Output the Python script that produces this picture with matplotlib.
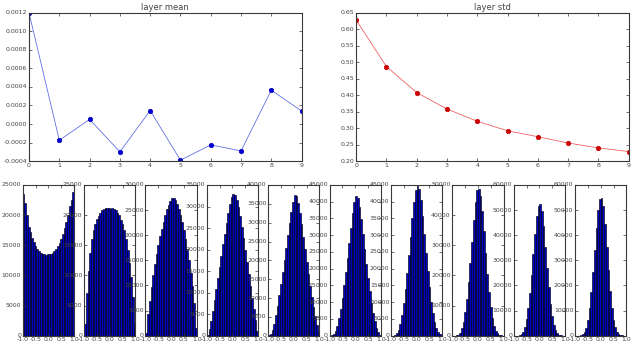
import numpy as np
import matplotlib
matplotlib.use("Agg")
import matplotlib.pyplot as plt
from matplotlib.ticker import FormatStrFormatter, MultipleLocator

plt.style.use("classic")

# per-layer statistics of the tanh activations
layers = list(range(10))
layer_means = [0.00120, -0.000175, 0.00005, -0.00030, 0.000145,
               -0.00039, -0.000225, -0.00029, 0.000365, 0.00014]
layer_stds = [0.628, 0.487, 0.408, 0.358, 0.321,
              0.292, 0.274, 0.255, 0.240, 0.229]

# activation histograms, 30 bins over [-1, 1]
bin_edges = np.linspace(-1, 1, 31)
hist_counts = [
    [23500, 22000, 20000, 18000, 17200, 16200, 15500, 14800, 14300, 14000,
     13700, 13500, 13500, 13400, 13500, 13500, 13600, 13800, 14000, 14300,
     14800, 15300, 16000, 16800, 17800, 18800, 20000, 21500, 22500, 23800],
    [2000, 7000, 10800, 13800, 16000, 17500, 18500, 19300, 19900, 20400,
     20800, 21000, 21100, 21200, 21200, 21000, 21200, 21000, 20800, 20400,
     20000, 19200, 18500, 17500, 16000, 14200, 12000, 9800, 6500, 2100],
    [600, 4300, 7000, 9600, 12000, 14200, 16200, 18100, 19800, 21300,
     22700, 24000, 25200, 26100, 26900, 27500, 27400, 27000, 26300, 25300,
     24100, 22700, 21100, 19300, 17200, 15000, 12500, 9800, 6500, 1500],
    [200, 1500, 3500, 5800, 8200, 10800, 13400, 16000, 18600, 21200,
     23700, 26200, 28500, 30600, 32200, 33000, 32700, 31500, 29800, 27700,
     25200, 22600, 19900, 17100, 14300, 11500, 8800, 6200, 3700, 1000],
    [50, 400, 1500, 3200, 5400, 7900, 10700, 13700, 16800, 20000,
     23300, 26600, 29800, 32800, 35400, 37300, 37000, 35200, 32600, 29600,
     26300, 22900, 19500, 16300, 13200, 10300, 7600, 5100, 2900, 1000],
    [0, 100, 500, 1500, 3000, 5200, 8000, 11300, 15000, 19000,
     23300, 27700, 32200, 36500, 40000, 41600, 41000, 38500, 34800, 30500,
     26000, 21500, 17200, 13300, 9800, 6800, 4300, 2400, 1100, 300],
    [0, 50, 200, 700, 1800, 3600, 6200, 9700, 13900, 18700,
     24000, 29500, 35000, 40000, 43500, 44800, 43800, 40500, 35800, 30400,
     24800, 19400, 14500, 10200, 6800, 4200, 2300, 1100, 400, 100],
    [0, 0, 100, 300, 1000, 2400, 4600, 7900, 12300, 17800,
     24200, 31200, 38300, 44500, 48300, 48800, 46500, 41500, 34800, 27600,
     20600, 14500, 9600, 5900, 3300, 1700, 800, 300, 100, 0],
    [0, 0, 50, 200, 600, 1600, 3500, 6600, 11000, 17000,
     24300, 32500, 40600, 47500, 51500, 52300, 49500, 43500, 35500, 27000,
     19200, 12700, 7800, 4400, 2200, 1000, 400, 150, 50, 0],
    [0, 0, 30, 150, 500, 1400, 3200, 6300, 10900, 17300,
     25200, 34000, 42800, 50000, 54500, 55000, 51500, 44500, 35500, 26200,
     17800, 11000, 6300, 3300, 1500, 600, 200, 80, 20, 0],
]
hist_ymax = [25000, 25000, 30000, 35000, 40000, 45000, 45000, 50000, 60000, 60000]
hist_ystep = [5000, 5000, 5000, 5000, 5000, 5000, 5000, 10000, 10000, 10000]

fig = plt.figure(figsize=(6.38, 3.45), dpi=100, facecolor="white")
TICK = 4.5
TEXT = "#444444"


def style_axes(ax, ticklen):
    ax.tick_params(labelsize=TICK, length=ticklen, width=0.5, pad=1.2,
                   labelcolor=TEXT, color="#333333")
    for s in ax.spines.values():
        s.set_linewidth(0.8)
        s.set_color("#3a3a3a")


top = fig.add_gridspec(1, 2, left=0.0455, right=0.9854, top=0.963, bottom=0.533, wspace=0.2)
ax_mean = fig.add_subplot(top[0, 0])
ax_std = fig.add_subplot(top[0, 1])

ax_mean.plot(layers, layer_means, "o-", color="#5566e0", lw=0.55,
             mfc="#0000cc", mec="#0000cc", ms=3.2)
ax_mean.set_title("layer mean", fontsize=6, pad=2, color=TEXT)
ax_mean.set_xlim(0, 9)
ax_mean.set_ylim(-0.0004, 0.0012)
ax_mean.yaxis.set_major_locator(MultipleLocator(0.0002))
ax_mean.yaxis.set_major_formatter(FormatStrFormatter("%.4f"))

ax_std.plot(layers, layer_stds, "o-", color="#ee5555", lw=0.55,
            mfc="#cc0000", mec="#cc0000", ms=3.2)
ax_std.set_title("layer std", fontsize=6, pad=2, color=TEXT)
ax_std.set_xlim(0, 9)
ax_std.set_ylim(0.20, 0.65)
ax_std.yaxis.set_major_locator(MultipleLocator(0.05))
ax_std.yaxis.set_major_formatter(FormatStrFormatter("%.2f"))

for ax in (ax_mean, ax_std):
    ax.xaxis.set_major_locator(MultipleLocator(1))
    style_axes(ax, 2.5)

bottom = fig.add_gridspec(1, 10, left=0.0356, right=0.9817, top=0.4638, bottom=0.027, wspace=0.197)
centers = (bin_edges[:-1] + bin_edges[1:]) / 2
for i, counts in enumerate(hist_counts):
    ax = fig.add_subplot(bottom[0, i])
    ax.hist(centers, bins=bin_edges, weights=counts, color="#0000c0",
            edgecolor="#000018", linewidth=0.45)
    ax.set_xlim(-1, 1)
    ax.set_ylim(0, hist_ymax[i])
    ax.set_xticks([-1.0, -0.5, 0.0, 0.5, 1.0])
    ax.xaxis.set_major_formatter(FormatStrFormatter("%.1f"))
    ax.yaxis.set_major_locator(MultipleLocator(hist_ystep[i]))
    ax.yaxis.set_major_formatter(FormatStrFormatter("%d"))
    style_axes(ax, 2)

fig.savefig("out.png", dpi=100, facecolor="white")
